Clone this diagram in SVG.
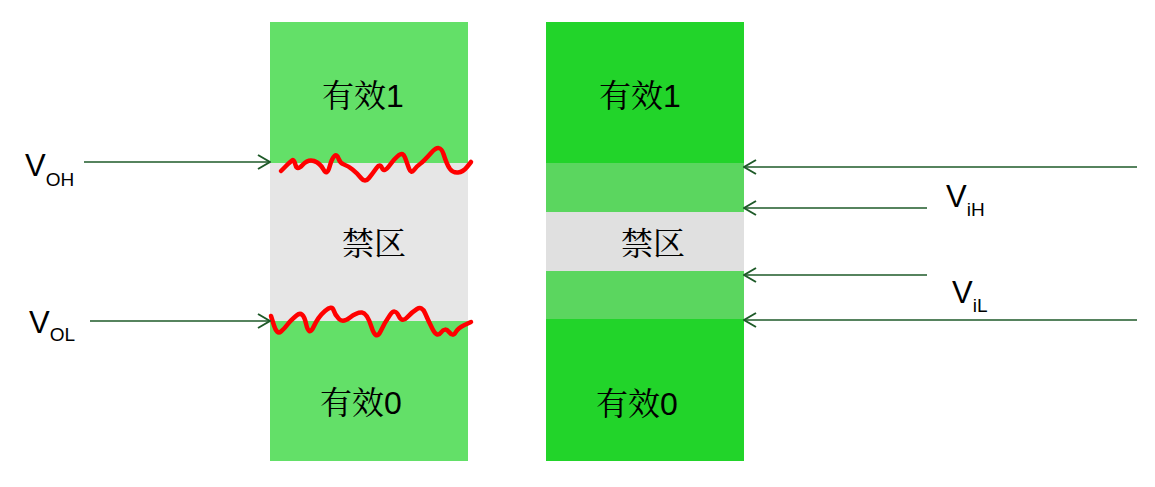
<svg xmlns="http://www.w3.org/2000/svg" width="1155" height="487" viewBox="0 0 1155 487">
<style>
.cjk{font-family:"Noto Serif CJK SC","Noto Sans CJK SC",serif;font-size:32px;fill:#000}
.dig{font-family:"Liberation Sans",Arial,sans-serif;font-size:32px;fill:#000}
.v{font-family:"Liberation Sans",Arial,sans-serif;font-size:31px;fill:#000}
.sub{font-size:19px}
.arr{stroke:#1e5a28;stroke-width:1.6;fill:none}
.noise{stroke:#ff0000;stroke-width:4.5;fill:none;stroke-linejoin:round;stroke-linecap:round}
</style>
<defs>
<marker id="ah" viewBox="0 0 14 16" refX="13" refY="8" markerWidth="14" markerHeight="16" markerUnits="userSpaceOnUse" orient="auto">
<path d="M1,1 L13,8 L1,15" stroke="#1e5a28" stroke-width="2" fill="none"/>
</marker>
</defs>
<rect width="1155" height="487" fill="#ffffff"/>
<g id="left-column">
<rect x="270" y="22" width="198" height="141" fill="#63e068"/>
<rect x="270" y="163" width="198" height="158" fill="#e6e6e6"/>
<rect x="270" y="321" width="198" height="140" fill="#63e068"/>
<text x="322" y="107" class="cjk">有效<tspan class="dig">1</tspan></text>
<text x="342" y="255" class="cjk">禁区</text>
<text x="320" y="414" class="cjk">有效<tspan class="dig">0</tspan></text>
</g>
<g id="noise">
<path class="noise" d="M281,171 L285.5,166.5 Q290,162 292,160.5 Q294,159 295.5,165 Q297,171 302.5,165 Q308,159 314,161 Q320,163 323.5,169.5 Q327,176 329.5,167 Q332,158 334.5,156 Q337,154 338.5,158.5 Q340,163 344,164.5 Q348,166 352.5,169.5 Q357,173 361,178 Q365,183 369,178 Q373,173 376.5,168 Q380,163 382,168 Q384,173 389.5,165.5 Q395,158 399,155 Q403,152 405,157.5 Q407,163 409,168.5 Q411,174 414,170 Q417,166 420,164 Q423,162 431.5,152.5 Q440,143 443.5,154 Q447,165 450,169 Q453,173 458,172.5 Q463,172 467,167 L471,162"/>
<path class="noise" d="M271,316 L274,325.5 Q277,335 281,331.5 Q285,328 287.5,324.5 Q290,321 296.5,315.5 Q303,310 306,323.5 Q309,337 313.5,327 Q318,317 325,311 Q332,305 333.5,310 Q335,315 339,319 Q343,323 350,317.5 Q357,312 362,312.5 Q367,313 371.5,327 Q376,341 380.5,331.5 Q385,322 390,315 Q395,308 398.5,315.5 Q402,323 407,317.5 Q412,312 417,309 Q422,306 425,313 Q428,320 432.5,329 Q437,338 441,332.5 Q445,327 449,332 Q453,337 455.5,332.5 Q458,328 464.5,325 L471,322"/>
</g>
<g id="right-column">
<rect x="546" y="22" width="198" height="141" fill="#22d42a"/>
<rect x="546" y="163" width="198" height="49" fill="#5bd65f"/>
<rect x="546" y="212" width="198" height="59" fill="#e0e0e0"/>
<rect x="546" y="271" width="198" height="48" fill="#5bd65f"/>
<rect x="546" y="319" width="198" height="142" fill="#22d42a"/>
<text x="599" y="107" class="cjk">有效<tspan class="dig">1</tspan></text>
<text x="621" y="255" class="cjk">禁区</text>
<text x="596" y="415" class="cjk">有效<tspan class="dig">0</tspan></text>
</g>
<g id="labels">
<text x="25" y="176" class="v">V<tspan class="sub" dy="10">OH</tspan></text>
<text x="29" y="333" class="v">V<tspan class="sub" dy="8">OL</tspan></text>
<text x="946" y="207" class="v">V<tspan class="sub" dy="9">iH</tspan></text>
<text x="952" y="303" class="v">V<tspan class="sub" dy="9">iL</tspan></text>
</g>
<g id="connectors">
<line class="arr" x1="84" y1="162" x2="270" y2="162" marker-end="url(#ah)"/>
<line class="arr" x1="90" y1="321" x2="270" y2="321" marker-end="url(#ah)"/>
<line class="arr" x1="1137" y1="167" x2="744" y2="167" marker-end="url(#ah)"/>
<line class="arr" x1="927" y1="208" x2="744" y2="208" marker-end="url(#ah)"/>
<line class="arr" x1="927" y1="275" x2="744" y2="275" marker-end="url(#ah)"/>
<line class="arr" x1="1137" y1="320" x2="744" y2="320" marker-end="url(#ah)"/>
</g>
</svg>
